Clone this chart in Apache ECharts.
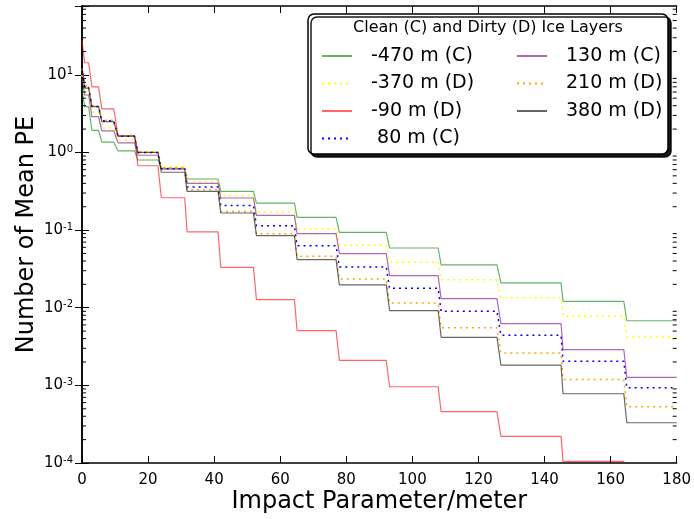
<!DOCTYPE html>
<html>
<head>
<meta charset="utf-8">
<script src="https://cdn.jsdelivr.net/npm/echarts@6/dist/echarts.min.js"></script>
<style>
  html, body { margin: 0; padding: 0; background: #fff; }
  #chart { width: 694px; height: 519px; }
</style>
</head>
<body>
<div id="chart"></div>
<script>
// step bins along the impact parameter (m): each value is held from binStart to binEnd
const binStart = [0, 0.8, 3.0, 6.0, 10.9, 16.9, 24.0, 31.8, 42.0, 52.8, 65.1, 77.9, 93.1, 108.7, 126.8, 145.6, 164.9];
const binEnd   = [0, 2.0, 5.0, 9.6, 15.9, 23.0, 31.1, 41.2, 51.9, 64.3, 76.9, 92.1, 107.8, 125.6, 145.0, 164.0, 180];

// mean PE per bin
const layerNames = ['-470 m (C)', '-370 m (D)', '-90 m (D)', ' 80 m (C)', '130 m (C)', '210 m (D)', '380 m (D)'];

const m470 = [6.5, 3.9, 1.92, 1.36, 1.05, 0.80, 0.625, 0.455, 0.315, 0.223, 0.146, 0.0933, 0.0588, 0.0356, 0.0209, 0.0121, 0.0068];
const m370 = [10, 6.1, 3.3, 2.06, 1.44, 1.02, 0.66, 0.42, 0.277, 0.171, 0.104, 0.0636, 0.0384, 0.023, 0.0134, 0.00776, 0.0042];
const m90  = [28, 14.3, 7.0, 3.65, 1.64, 0.674, 0.261, 0.0946, 0.0331, 0.0127, 0.00507, 0.0021, 0.00096, 0.000459, 0.00022, 0.000105, 0.00005];
const p80  = [12.5, 6.9, 3.9, 2.56, 1.62, 1.0, 0.617, 0.36, 0.208, 0.114, 0.063, 0.0335, 0.0178, 0.009, 0.00441, 0.00204, 0.00093];
const p130 = [9, 5.5, 2.9, 1.9, 1.33, 0.92, 0.61, 0.40, 0.259, 0.155, 0.09, 0.0497, 0.0259, 0.0131, 0.00624, 0.00289, 0.00127];
const p210 = [12, 7.2, 4.0, 2.6, 1.65, 1.0, 0.635, 0.33, 0.174, 0.09, 0.046, 0.0235, 0.0115, 0.00554, 0.00262, 0.00119, 0.00053];
const p380 = [13, 6.74, 3.9, 2.5, 1.62, 1.0, 0.556, 0.315, 0.166, 0.0847, 0.0416, 0.0197, 0.0092, 0.00416, 0.00182, 0.00078, 0.00033];

const layerValues = [m470, m370, m90, p80, p130, p210, p380];
const layerColors = ['rgba(0,128,0,0.6)', '#ffff00', 'rgba(255,0,0,0.6)', '#0000ff', 'rgba(128,0,128,0.6)', '#ffa500', 'rgba(0,0,0,0.6)'];
const layerDotted = [false, true, false, true, false, true, false];

// log minor tick positions (2..9 per decade) for the y frame
const yMin = 0.0001, yMax = 77;
const minorTickVals = [];
for (let d = -4; d <= 1; d++) {
    for (let k = 2; k <= 9; k++) {
        const v = k * Math.pow(10, d);
        if (v < yMax) minorTickVals.push(v);
    }
}

const font = 'DejaVu Sans';

function stepPoints(vals) {
    const pts = [];
    vals.forEach(function (v, i) {
        pts.push([binStart[i], v]);
        if (binEnd[i] !== binStart[i]) pts.push([binEnd[i], v]);
    });
    return pts;
}

const series = layerNames.map(function (name, i) {
    return {
        name: name,
        type: 'line',
        xAxisIndex: 0,
        yAxisIndex: 0,
        symbol: 'none',
        clip: true,
        color: layerColors[i],
        lineStyle: layerDotted[i]
            ? { color: layerColors[i], width: 1.5, type: [2, 4] }
            : { color: layerColors[i], width: 1.2 },
        data: stepPoints(layerValues[i])
    };
});

// minor ticks on left and right frame, placed by the log axis
series.push({
    type: 'custom',
    name: 'minorTicks',
    xAxisIndex: 0,
    yAxisIndex: 0,
    silent: true,
    z: 5,
    data: minorTickVals.map(function (v) { return [0, v]; }),
    renderItem: function (params, api) {
        const left = api.coord([0, api.value(1)]);
        const right = api.coord([180, api.value(1)]);
        const st = { stroke: '#000', lineWidth: 1 };
        return {
            type: 'group',
            children: [
                { type: 'line', shape: { x1: left[0], y1: left[1], x2: left[0] + 4, y2: left[1] }, style: st },
                { type: 'line', shape: { x1: right[0], y1: right[1], x2: right[0] - 4, y2: right[1] }, style: st }
            ]
        };
    }
});

function supLabel(v) {
    const e = Math.log10(v);
    if (Math.abs(e - Math.round(e)) > 1e-6) return '';
    return '10{sup|' + Math.round(e) + '}';
}

const tickInside = { show: true, inside: true, length: 7, lineStyle: { color: '#000', width: 1 } };
const frameLine = { show: true, lineStyle: { color: '#000', width: 1.5 } };

const legendCommon = {
    orient: 'vertical',
    top: 46,
    padding: 0,
    itemWidth: 30,
    itemHeight: 20,
    itemGap: 7.5,
    selectedMode: false,
    itemStyle: { color: 'rgba(0,0,0,0)', borderWidth: 0 },
    textStyle: { fontFamily: font, fontSize: 19, color: '#000', lineHeight: 20, padding: [0, 0, 0, 14] }
};

const chart = echarts.init(document.getElementById('chart'));
chart.setOption({
    animation: false,
    backgroundColor: '#fff',
    grid: { left: 82, right: 16, top: 6, bottom: 55, containLabel: false },
    xAxis: [
        {
            type: 'value', min: 0, max: 180, interval: 20,
            name: 'Impact Parameter/meter', nameLocation: 'middle', nameGap: 27, nameMoveOverlap: false,
            nameTextStyle: { fontFamily: font, fontSize: 24, color: '#000' },
            axisLine: frameLine, axisTick: tickInside, splitLine: { show: false },
            axisLabel: { fontFamily: font, fontSize: 15, color: '#000', margin: 10 }
        },
        {
            type: 'value', min: 0, max: 180, interval: 20, position: 'top',
            axisLine: frameLine, axisTick: tickInside, splitLine: { show: false },
            axisLabel: { show: false }
        }
    ],
    yAxis: [
        {
            type: 'log', logBase: 10, min: yMin, max: yMax,
            name: 'Number of Mean PE', nameLocation: 'middle', nameGap: 43, nameMoveOverlap: false,
            nameTextStyle: { fontFamily: font, fontSize: 24, color: '#000' },
            axisLine: frameLine, axisTick: tickInside,
            splitLine: { show: false },
            axisLabel: {
                fontFamily: font, fontSize: 15, color: '#000', margin: 9,
                formatter: supLabel,
                rich: { sup: { fontFamily: font, fontSize: 10, color: '#000', verticalAlign: 'top', padding: [0, 0, 6, 0] } }
            }
        },
        {
            type: 'log', logBase: 10, min: yMin, max: yMax, position: 'right',
            axisLine: frameLine, axisTick: tickInside,
            splitLine: { show: false },
            axisLabel: { show: false }
        }
    ],
    graphic: [
        {
            type: 'rect', z: 10,
            shape: { x: 308, y: 14, width: 360, height: 140, r: 6 },
            style: { fill: '#fff', stroke: '#000', lineWidth: 1.5, shadowColor: 'rgba(0,0,0,0.9)', shadowOffsetX: 3, shadowOffsetY: 3, shadowBlur: 0 }
        },
        {
            type: 'text', z: 11, x: 488, y: 28,
            style: { text: 'Clean (C) and Dirty (D) Ice Layers', font: '16px "DejaVu Sans"', fill: '#000', align: 'center', verticalAlign: 'middle' }
        }
    ],
    legend: [
        Object.assign({ left: 321, data: layerNames.slice(0, 4), z: 20 }, legendCommon),
        Object.assign({ left: 516, data: layerNames.slice(4), z: 20 }, legendCommon)
    ],
    series: series
});
</script>
</body>
</html>
